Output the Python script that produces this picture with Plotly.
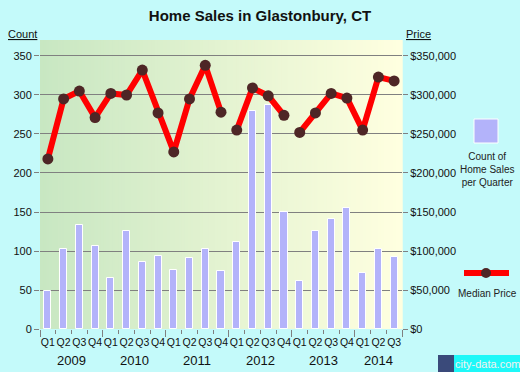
import plotly.graph_objects as go

quarters = ["Q1", "Q2", "Q3", "Q4"] * 5 + ["Q1", "Q2", "Q3"]
years = ["2009", "2010", "2011", "2012", "2013", "2014"]
year_quarter_counts = [4, 4, 4, 4, 4, 3]
sales_count = [49, 102, 133, 107, 66, 126, 86, 94, 76, 91, 102, 75,
               111, 279, 287, 150, 62, 126, 141, 155, 72, 103, 92]
median_price = [218000, 295000, 305000, 271000, 302000, 300000, 332000, 277000,
                227000, 295000, 338000, 278000, 255000, 309000, 299000, 274000,
                252000, 277000, 302000, 296000, 255000, 323000, 318000]
# the price line is broken into these runs of quarters (start, end inclusive)
price_segments = [(0, 11), (12, 15), (16, 22)]
count_ticks = [0, 50, 100, 150, 200, 250, 300, 350]
price_ticks = [0, 50000, 100000, 150000, 200000, 250000, 300000, 350000]

FONT = "Arial, Liberation Sans, sans-serif"
PX_L, PX_R, PX_T, PX_B = 40, 402, 40, 329
W, H = 520, 372


def px_x(p):
    return (p - PX_L) / (PX_R - PX_L)


def px_y(p):
    return (PX_B - p) / (PX_B - PX_T)


n = len(sales_count)
xs = list(range(n))

fig = go.Figure()
fig.add_trace(go.Bar(
    x=xs, y=sales_count, width=0.45,
    marker=dict(color="#B3B3FA", line=dict(color="white", width=1)),
    yaxis="y", xaxis="x", showlegend=False, hoverinfo="y"))

for s, e in price_segments:
    fig.add_trace(go.Scatter(
        x=xs[s:e + 1], y=median_price[s:e + 1], mode="lines+markers",
        line=dict(color="#FF0000", width=6),
        marker=dict(color="#4E2626", size=11),
        yaxis="y2", xaxis="x", showlegend=False))

shapes = []
# gradient background of the plot area
N = 120
c0 = (200, 231, 194)
c1 = (255, 255, 224)
for i in range(N):
    t = i / (N - 1)
    c = tuple(round(c0[k] + (c1[k] - c0[k]) * t) for k in range(3))
    shapes.append(dict(type="rect", xref="paper", yref="paper",
                       x0=i / N, x1=(i + 1) / N + 0.002, y0=0, y1=1,
                       fillcolor="rgb(%d,%d,%d)" % c, line=dict(width=0),
                       layer="below"))

# legend: count square
shapes.append(dict(type="rect", xref="paper", yref="paper",
                   x0=px_x(474), x1=px_x(498), y0=px_y(143), y1=px_y(119),
                   fillcolor="#B3B3FA", line=dict(color="white", width=1)))
# legend: median price line and dot
shapes.append(dict(type="line", xref="paper", yref="paper",
                   x0=px_x(464), x1=px_x(509), y0=px_y(273), y1=px_y(273),
                   line=dict(color="#FF0000", width=6)))
shapes.append(dict(type="circle", xref="paper", yref="paper",
                   x0=px_x(481), x1=px_x(491), y0=px_y(278), y1=px_y(268),
                   fillcolor="#4E2626", line=dict(width=0)))
# city-data logo
shapes.append(dict(type="rect", xref="paper", yref="paper",
                   x0=px_x(438), x1=px_x(454), y0=px_y(373), y1=px_y(355),
                   fillcolor="#3A4A7A", line=dict(width=0)))
shapes.append(dict(type="rect", xref="paper", yref="paper",
                   x0=px_x(454), x1=px_x(521), y0=px_y(373), y1=px_y(355),
                   fillcolor="#1EF8F8", line=dict(width=0)))

annotations = []
pos = 0
for yr, cnt in zip(years, year_quarter_counts):
    center = pos + (cnt - 1) / 2
    annotations.append(dict(x=center, xref="x", y=px_y(360), yref="paper",
                            text=yr, showarrow=False, yanchor="middle",
                            xanchor="center",
                            font=dict(family=FONT, size=13, color="#111")))
    pos += cnt


def note(x, y, text, size, color="#111"):
    return dict(x=px_x(x), y=px_y(y), xref="paper", yref="paper", text=text,
                showarrow=False, xanchor="center", yanchor="middle",
                font=dict(family=FONT, size=size, color=color))


annotations += [
    note(22.5, 34, "<u>Count</u>", 11),
    note(418, 34, "<u>Price</u>", 11),
    note(487, 169, "Count of<br>Home Sales<br>per Quarter", 10, "#222"),
    note(487, 293, "Median Price", 10, "#222"),
    note(487, 364, "city-data.com", 11, "#F2F2F2"),
]

boundaries = [i - 0.5 for i in range(n + 1)]
year_bounds = [-0.5]
acc = -0.5
for cnt in year_quarter_counts:
    acc += cnt
    year_bounds.append(acc)

fig.update_layout(
    width=W, height=H,
    margin=dict(l=PX_L, r=W - PX_R, t=PX_T, b=H - PX_B, pad=0),
    paper_bgcolor="#C4FAFA", plot_bgcolor="#E6F3D2",
    title=dict(text="<b>Home Sales in Glastonbury, CT</b>", x=0.5, xref="container",
               y=1 - 16 / H, yref="container", yanchor="middle", xanchor="center",
               font=dict(family=FONT, size=15, color="#111")),
    font=dict(family=FONT, size=11, color="#111"),
    bargap=0,
    xaxis=dict(range=[-0.5, n - 0.5], tickvals=xs, ticktext=quarters, ticks="",
               tickangle=0, showgrid=False, zeroline=False, showline=False,
               ticklabelstandoff=5,
               tickfont=dict(family=FONT, size=10.5, color="#111"),
               minor=dict(tickvals=boundaries, ticks="outside", ticklen=4,
                          tickcolor="#808080", tickwidth=1, showgrid=False),
               fixedrange=True),
    xaxis2=dict(range=[-0.5, n - 0.5], overlaying="x", tickvals=year_bounds,
                ticks="outside", ticklen=7, tickcolor="#808080", tickwidth=1,
                showticklabels=False, showgrid=False, zeroline=False,
                side="bottom", anchor="y"),
    yaxis=dict(range=[0, 370.5], tickvals=count_ticks, ticks="outside", ticklen=5,
               tickcolor="#808080", gridcolor="#808080", gridwidth=1,
               showgrid=True, zeroline=False, showline=False,
               tickfont=dict(family=FONT, size=11, color="#111")),
    yaxis2=dict(range=[0, 370500], tickvals=price_ticks, overlaying="y", side="right",
                ticks="outside", ticklen=5, tickcolor="#808080", showgrid=False,
                zeroline=False, showline=False, tickformat="$,.0f",
                tickfont=dict(family=FONT, size=11, color="#111")),
    shapes=shapes, annotations=annotations,
)

# invisible trace to activate xaxis2
fig.add_trace(go.Scatter(x=[0], y=[0], xaxis="x2", yaxis="y", mode="markers",
                         marker=dict(opacity=0), showlegend=False, hoverinfo="skip"))

fig.write_html("out.html", config={"displayModeBar": False},
               post_script="document.body.style.margin='0px';"
                           "document.body.style.background='#C4FAFA';")
